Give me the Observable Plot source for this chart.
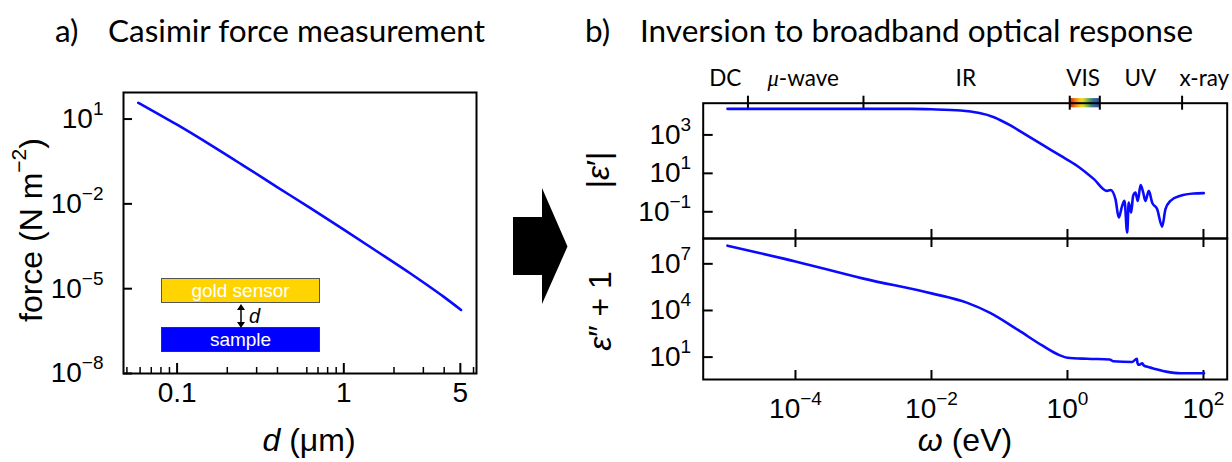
<!DOCTYPE html>
<html><head><meta charset="utf-8">
<script src="https://cdn.jsdelivr.net/npm/d3@7"></script>
<script src="https://cdn.jsdelivr.net/npm/@observablehq/plot@0.6"></script>
<style>
html,body{margin:0;padding:0;background:#fff;}
#root{position:relative;width:1232px;height:462px;overflow:hidden;font-family:"Liberation Sans",Arial,sans-serif;color:#000;}
#root svg{position:absolute;}
.abs{position:absolute;white-space:nowrap;line-height:1;}
.title{font-family:Lato,"Open Sans",sans-serif;font-size:31.5px;transform:translateY(-50%);}
.box{position:absolute;box-sizing:border-box;border:1px solid #555;color:#fff;font-size:19px;display:flex;align-items:center;justify-content:center;}
</style></head><body><div id="root"></div>
<script>
// ---------- data ----------
// a) Casimir force vs separation
const gapD   = [0.0585, 0.0759, 0.1, 0.1585, 0.2512, 0.3981, 0.631, 1.0, 1.585, 2.512, 3.162, 3.981, 5.05];
const forceF = [37.6, 16.0, 6.30, 1.22, 0.222, 0.0394, 7.02e-3, 1.22e-3, 2.07e-4, 3.44e-5, 1.35e-5, 5.14e-6, 1.77e-6];
const forceTicks = [1e1, 1e-2, 1e-5, 1e-8];
const dTicksMajor = [0.1, 1, 5];
const dTicksMinor = [0.05, 0.06, 0.07, 0.08, 0.09, 0.2, 0.3, 0.4, 0.6, 0.7, 0.8, 0.9, 2, 3, 4, 6];

// b) |eps'| vs omega (eV)
const omegaA = [1e-5, 1e-4, 1e-3, 5e-3, 1e-2, 2.7e-2, 8.3e-2, 0.145, 0.257, 0.45, 0.79, 1.38, 2.45, 3.8, 4.29, 5.08, 5.68, 6.37, 6.89, 7.55, 7.96, 8.63, 9.25, 10.0, 10.8, 11.9, 13.0, 14.0, 15.7, 17.6, 20.8, 24.7, 27.6, 32.7, 45.9, 71.9, 101];
const epsAbs = [2.27e4, 2.27e4, 2.27e4, 2.25e4, 2.15e4, 1.86e4, 8.3e3, 3.1e3, 910, 275, 83, 25, 5.0, 1.23, 1.35, 0.46, 0.05, 0.204, 0.37, 0.0083, 0.30, 0.091, 0.68, 1.0, 0.37, 2.45, 1.0, 0.37, 1.23, 0.30, 0.138, 0.017, 0.138, 0.37, 0.68, 0.89, 0.93];
// b) eps'' + 1 vs omega (eV)
const omegaB = [1e-5, 1e-4, 1e-3, 1e-2, 0.033, 0.074, 0.19, 0.43, 0.76, 1.0, 1.95, 4.17, 4.68, 8.9, 10.5, 10.7, 11.2, 12.6, 13.2, 15.8, 17.8, 28.2, 45.7, 102];
const epsImag1 = [1.48e8, 1.43e7, 1.12e6, 1.26e5, 3.2e4, 6.8e3, 537, 54, 13.5, 9.1, 7.8, 7.1, 5.4, 4.9, 7.9, 4.2, 3.2, 4.0, 2.95, 2.24, 1.95, 1.17, 0.91, 0.91];
const omegaTicks = [1e-4, 1e-2, 1, 1e2];
const epsAbsTicks = [1e3, 1e1, 1e-1];
const epsImagTicks = [1e7, 1e4, 1e1];
// spectral bands
const bandEdges = [2e-5, 1e-3, 1.08, 2.99, 48.5];
const bandNames = ["DC", "μ-wave", "IR", "VIS", "UV", "x-ray"];
const bandCenters = [9.3e-6, 1.3e-4, 0.032, 1.7, 11.8, 103];
const visRange = [1.08, 2.99];
const visColors = ["#d3121b", "#ee5a14", "#f7a31a", "#f5e81c", "#9cc63c", "#3f8f6e", "#2f5e9e", "#36559a"];

// ---------- helpers ----------
const BLUE = "#0a0aff";
const FONT = "Liberation Sans, Arial, sans-serif";
const TICKFS = 28, SUPFS = 19;
const expFmt = d => "10^" + String(Math.round(Math.log10(d))).replace("-", "\u2212");
function supify(svg) {
  d3.select(svg).selectAll("text").each(function () {
    const t = this.textContent;
    const m = /^10\^(.+)$/.exec(t);
    if (m) {
      const s = d3.select(this);
      s.text(null);
      s.append("tspan").text("10");
      s.append("tspan").attr("dy", -13).attr("font-size", SUPFS).text(m[1]);
    } else if (t === "μ-wave") {
      const s = d3.select(this);
      s.text(null);
      s.append("tspan").attr("font-style", "italic").attr("font-family", "Liberation Serif, serif").text("μ");
      s.append("tspan").text("-wave");
    }
  });
  return svg;
}
const root = document.getElementById("root");
function place(svg, left, top) { svg.style.left = left + "px"; svg.style.top = top + "px"; root.appendChild(svg); }

// ---------- panel a ----------
const W1 = 500, H1 = 462, mL1 = 123, mR1 = 24, mT1 = 92, mB1 = 89;
const iW1 = W1 - mL1 - mR1, iH1 = H1 - mT1 - mB1;
const panelA = Plot.plot({
  width: W1, height: H1, marginLeft: mL1, marginRight: mR1, marginTop: mT1, marginBottom: mB1,
  style: {background: "transparent", fontFamily: FONT, color: "#000"},
  x: {type: "log", domain: [0.0477, 6.25]},
  y: {type: "log", domain: [1e-8, 86.9]},
  marks: [
    Plot.frame({stroke: "#000", strokeWidth: 2}),
    Plot.tickY(forceTicks, {y: d => d, insetRight: iW1 - 9, stroke: "#000", strokeWidth: 2}),
    Plot.tickX(dTicksMajor, {x: d => d, insetTop: iH1 - 10, stroke: "#000", strokeWidth: 2}),
    Plot.tickX(dTicksMinor, {x: d => d, insetTop: iH1 - 6, stroke: "#000", strokeWidth: 1.5}),
    Plot.axisY({ticks: forceTicks, tickSize: 0, tickPadding: 20, fontSize: TICKFS, tickFormat: expFmt, label: null}),
    Plot.axisX({ticks: dTicksMajor, tickSize: 0, tickPadding: 9, fontSize: TICKFS, tickFormat: d => String(d), label: null}),
    Plot.line(gapD, {x: d => d, y: (d, i) => forceF[i], stroke: BLUE, strokeWidth: 2.6, curve: "monotone-x"})
  ]
});
place(supify(panelA), 0, 0);

// ---------- panel b (top) ----------
const W2 = 632, mL2 = 102.7, mR2 = 5.3;
const H2a = 245, mT2a = 102.7, mB2a = 7;
const iW2 = W2 - mL2 - mR2, iH2a = H2a - mT2a - mB2a;
const xDom = [10 ** -5.357, 10 ** 2.349];
const nVis = 40;
const visSeg = d3.range(nVis).map(i => {
  const l0 = Math.log10(visRange[0]), l1 = Math.log10(visRange[1]);
  return {x1: 10 ** (l0 + (l1 - l0) * i / nVis), x2: 10 ** (l0 + (l1 - l0) * (i + 1) / nVis), c: d3.interpolateRgbBasis(visColors)((i + 0.5) / nVis)};
});
const panelB1 = Plot.plot({
  width: W2, height: H2a, marginLeft: mL2, marginRight: mR2, marginTop: mT2a, marginBottom: mB2a,
  style: {background: "transparent", fontFamily: FONT, color: "#000"},
  x: {type: "log", domain: xDom, axis: null},
  y: {type: "log", domain: [10 ** -2.39, 10 ** 4.65]},
  marks: [
    Plot.rect(visSeg, {x1: "x1", x2: "x2", fill: "c", insetTop: -4.5, insetBottom: iH2a - 4.5, insetLeft: -0.3, insetRight: -0.3}),
    Plot.frame({stroke: "#000", strokeWidth: 2}),
    Plot.tickX(bandEdges, {x: d => d, insetTop: -7, insetBottom: iH2a - 7, stroke: "#000", strokeWidth: 2}),
    Plot.text(bandNames, {x: bandCenters, text: d => d, frameAnchor: "top", dy: -33, fontSize: 22.5, fontFamily: "Lato, Open Sans, sans-serif", fill: "#000"}),
    Plot.tickY(epsAbsTicks, {y: d => d, insetRight: iW2 - 10, stroke: "#000", strokeWidth: 2}),
    Plot.tickX(omegaTicks, {x: d => d, insetTop: iH2a - 9, stroke: "#000", strokeWidth: 2}),
    Plot.axisY({ticks: epsAbsTicks, tickSize: 0, tickPadding: 12, fontSize: TICKFS, tickFormat: expFmt, label: null}),
    Plot.line(omegaA, {x: d => d, y: (d, i) => epsAbs[i], stroke: BLUE, strokeWidth: 2.6, curve: "monotone-x"})
  ]
});
place(supify(panelB1), 600, 0);

// ---------- panel b (bottom) ----------
const H2b = 231, mT2b = 7, mB2b = 83;
const iH2b = H2b - mT2b - mB2b;
const panelB2 = Plot.plot({
  width: W2, height: H2b, marginLeft: mL2, marginRight: mR2, marginTop: mT2b, marginBottom: mB2b,
  style: {background: "transparent", fontFamily: FONT, color: "#000"},
  x: {type: "log", domain: xDom},
  y: {type: "log", domain: [10 ** -0.44, 10 ** 8.63]},
  marks: [
    Plot.frame({stroke: "#000", strokeWidth: 2}),
    Plot.tickY(epsImagTicks, {y: d => d, insetRight: iW2 - 10, stroke: "#000", strokeWidth: 2}),
    Plot.tickX(omegaTicks, {x: d => d, insetBottom: iH2b - 9, stroke: "#000", strokeWidth: 2}),
    Plot.tickX(omegaTicks, {x: d => d, insetTop: iH2b - 9, stroke: "#000", strokeWidth: 2}),
    Plot.axisY({ticks: epsImagTicks, tickSize: 0, tickPadding: 12, fontSize: TICKFS, tickFormat: expFmt, label: null}),
    Plot.axisX({ticks: omegaTicks, tickSize: 0, tickPadding: 19, fontSize: TICKFS, tickFormat: expFmt, label: null}),
    Plot.line(omegaB, {x: d => d, y: (d, i) => epsImag1[i], stroke: BLUE, strokeWidth: 2.6, curve: "monotone-x"})
  ]
});
place(supify(panelB2), 600, 231);

// ---------- text, inset and arrow ----------
root.insertAdjacentHTML("beforeend", `
<div class="abs title" style="left:55px;top:31px">a)</div>
<div class="abs title" style="left:108px;top:31px">Casimir force measurement</div>
<div class="abs title" style="left:585px;top:31px">b)</div>
<div class="abs title" style="left:640px;top:31px">Inversion to broadband optical response</div>
<div class="box" style="left:161px;top:278px;width:159px;height:25px;background:#ffd400">gold sensor</div>
<div class="box" style="left:161px;top:327px;width:159px;height:25px;background:#0000ff;border-color:#333">sample</div>
<svg width="1232" height="462" style="left:0;top:0;pointer-events:none" font-family="Liberation Sans, Arial, sans-serif" fill="#000">
  <line x1="241" y1="308" x2="241" y2="324" stroke="#000" stroke-width="1.5"/>
  <polygon points="237,310 245,310 241,304" fill="#000"/>
  <polygon points="237,322 245,322 241,328" fill="#000"/>
  <text x="249" y="316" dominant-baseline="central" font-size="20" font-style="italic">d</text>
  <polygon points="513,217 542,217 542,188 567.5,246.5 542,304 542,275 513,275" fill="#000"/>
  <text transform="translate(31,230) rotate(-90)" text-anchor="middle" dominant-baseline="central" font-size="32">force (N m<tspan dy="-13" font-size="21">\u22122</tspan><tspan dy="13">)</tspan></text>
  <text x="309" y="440" text-anchor="middle" dominant-baseline="central" font-size="32"><tspan font-style="italic">d</tspan> (μm)</text>
  <text transform="translate(598,170) rotate(-90)" text-anchor="middle" dominant-baseline="central" font-size="32">|<tspan font-style="italic">ε</tspan>′|</text>
  <text transform="translate(600,311) rotate(-90)" text-anchor="middle" dominant-baseline="central" font-size="32"><tspan font-style="italic">ε</tspan>″ + 1</text>
  <text x="965" y="440" text-anchor="middle" dominant-baseline="central" font-size="32"><tspan font-style="italic">ω</tspan> (eV)</text>
</svg>
`);
</script></body></html>
